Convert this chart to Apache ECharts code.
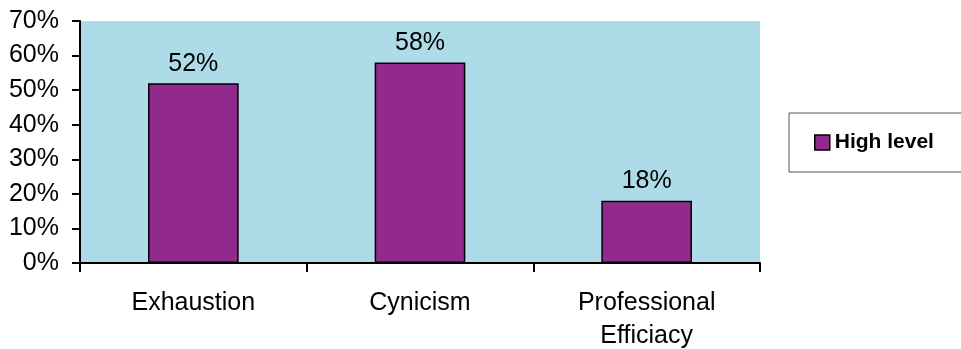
<!DOCTYPE html>
<html>
<head>
<meta charset="utf-8">
<script src="https://cdn.jsdelivr.net/npm/echarts@6/dist/echarts.min.js"></script>
<style>
  html, body { margin: 0; padding: 0; background: #ffffff; }
  #chart { width: 961px; height: 349px; }
</style>
</head>
<body>
<div id="chart"></div>
<script>
// Burnout dimensions: share of respondents at a high level
const categories = ['Exhaustion', 'Cynicism', 'Professional\nEfficiacy'];
const highLevel = [52, 58, 18];
const yTicks = [0, 10, 20, 30, 40, 50, 60, 70];
const seriesName = 'High level';

const FONT = '"Liberation Sans", Arial, sans-serif';
const chart = echarts.init(document.getElementById('chart'), null, { renderer: 'canvas' });

chart.setOption({
  animation: false,
  textStyle: { fontFamily: FONT },
  grid: {
    left: 80, right: 201, top: 21, bottom: 86,
    outerBoundsMode: 'none',
    containLabel: false,
    show: true, backgroundColor: '#addbe7', borderWidth: 0
  },
  legend: {
    data: [seriesName],
    left: 789, top: 113,
    padding: [19, 60, 19, 25],
    borderColor: '#555', borderWidth: 1,
    backgroundColor: '#ffffff',
    itemWidth: 15, itemHeight: 15, itemGap: 4,
    icon: 'rect',
    itemStyle: { borderColor: '#000', borderWidth: 1.5 },
    textStyle: { fontFamily: FONT, fontSize: 21, fontWeight: 'bold', color: '#000', padding: [0, 0, 0, 0] }
  },
  xAxis: {
    type: 'category',
    data: categories,
    boundaryGap: true,
    axisLine: { show: true, lineStyle: { color: '#000', width: 2 } },
    axisTick: { show: true, alignWithLabel: false, length: 9, lineStyle: { color: '#000', width: 2 } },
    axisLabel: { color: '#000', fontSize: 25, fontFamily: FONT, margin: 24, lineHeight: 33, interval: 0 },
    splitLine: { show: false }
  },
  yAxis: {
    type: 'value',
    min: yTicks[0], max: yTicks[yTicks.length - 1], interval: 10,
    axisLine: { show: true, lineStyle: { color: '#000', width: 2 } },
    axisTick: { show: true, inside: false, length: 8, lineStyle: { color: '#000', width: 2 } },
    axisLabel: { color: '#000', fontSize: 25, fontFamily: FONT, margin: 21, formatter: '{value}%' },
    splitLine: { show: false }
  },
  series: [{
    name: seriesName,
    type: 'bar',
    data: highLevel,
    barWidth: '40%',
    itemStyle: { color: '#922a8e', borderColor: '#000', borderWidth: 1.5 },
    label: {
      show: true, position: 'top', distance: 7,
      color: '#000', fontSize: 25, fontFamily: FONT,
      formatter: '{c}%'
    }
  }]
});
</script>
</body>
</html>
